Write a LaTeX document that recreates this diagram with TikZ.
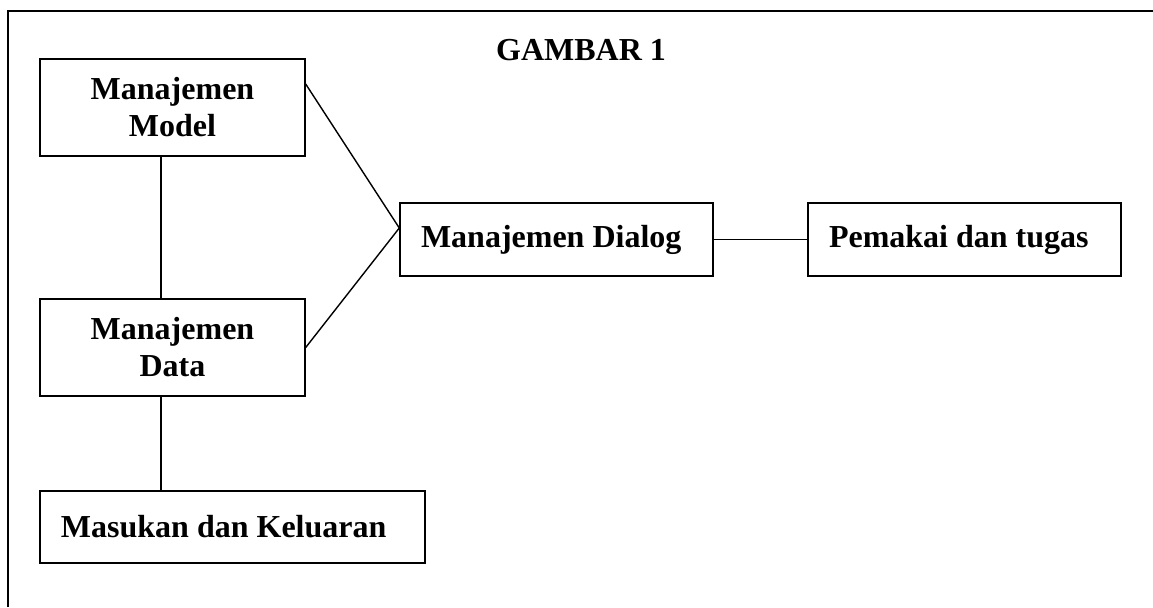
\documentclass[tikz,border=0pt]{standalone}
\usepackage{fontspec}
\setmainfont{Liberation Serif}
\usepackage{tikz}
\tikzset{
    box/.style={draw=black, line width=0.7pt, inner sep=0pt, align=center,
        font=\fontsize{16}{18.5}\selectfont\bfseries},
    tall/.style={minimum width=132.5pt, minimum height=48.5pt},
    wide/.style={align=flush left, inner xsep=10.5pt, text width=135.5pt, minimum height=36.5pt},
    link/.style={line width=0.7pt},
    frame/.style={line width=1.1pt}}

\begin{document}
\begin{tikzpicture}[x=0.5pt, y=-0.5pt]
    \useasboundingbox (0,0) rectangle (1153,607);
    \draw[frame] (8,607) -- (8,11) -- (1153,11);

    \node[font=\fontsize{16}{18.5}\selectfont\bfseries] (T) at (581,50) {GAMBAR 1};
    \node[box, tall] (M) at (172.5,107.5) {Manajemen\\Model};
    \node[box, tall] (D) at (172.5,347.5) {Manajemen\\Data};
    \node[box, wide, text width=171.5pt, minimum height=36pt] (K) at (232.5,527) {Masukan dan Keluaran};
    \node[box, wide] (G) at (556.5,239.5) {Manajemen Dialog};
    \node[box, wide] (P) at (964.5,239.5) {Pemakai dan tugas};

    \draw[link] ([xshift=-5.75pt]M.south) -- ([xshift=-5.75pt]D.north);
    \draw[link] ([xshift=-5.75pt]D.south) -- ([xshift=-5.75pt]K.north -| D.south);
    \draw[link] ([yshift=11.75pt]M.east) -- ([yshift=5.75pt]G.west);
    \draw[link] (D.east) -- ([yshift=5.75pt]G.west);
    \draw[link] (G) -- (P);
\end{tikzpicture}
\end{document}
